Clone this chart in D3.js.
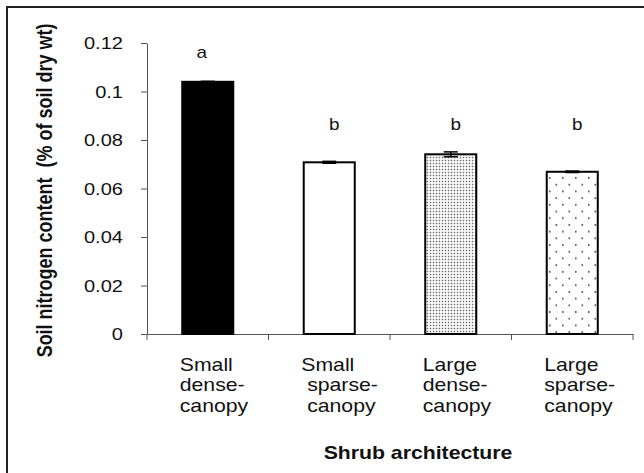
<!DOCTYPE html>
<html><head><meta charset="utf-8">
<script src="https://cdn.jsdelivr.net/npm/d3@7"></script>
<style>
html,body{margin:0;padding:0;background:#fff;}
svg{display:block;}
text{font-family:Arial,"Liberation Sans",sans-serif;fill:#111;}
</style></head>
<body>
<svg id="chart" width="644" height="473"></svg>
<script>
// ---- data ----
const categories = ["Small dense-canopy","Small sparse-canopy","Large dense-canopy","Large sparse-canopy"];
const categoryLines = [["Small","dense-","canopy"],["Small"," sparse-"," canopy"],["Large","dense-","canopy"],["Large","sparse-","canopy"]];
const values = [0.104, 0.0708, 0.0741, 0.0669];
const errors = [0.0002, 0.0004, 0.001, 0.0003];
const letters = ["a","b","b","b"];
const yTicks = [0, 0.02, 0.04, 0.06, 0.08, 0.1, 0.12];
const yTitle = "Soil nitrogen content  (% of soil dry wt)";
const xTitle = "Shrub architecture";

// ---- layout ----
const SX = 1.18; // horizontal stretch of glyphs
const svg = d3.select("#chart");
const mLeft = 147, mRight = 633, mTop = 43, mBottom = 334;

const x = d3.scaleBand().domain(categories).range([mLeft, mRight]).padding(0);
const y = d3.scaleLinear().domain([0, 0.12]).range([mBottom, mTop]);
const barW = x.bandwidth() * 0.42;

// outer frame
svg.append("rect").attr("x",7).attr("y",7).attr("width",700).attr("height",700)
  .attr("fill","none").attr("stroke","#222").attr("stroke-width",2);

// patterns
const defs = svg.append("defs");
const p1 = defs.append("pattern").attr("id","dense").attr("patternUnits","userSpaceOnUse")
  .attr("width",3).attr("height",3);
p1.append("rect").attr("width",3).attr("height",3).attr("fill","#fff");
p1.append("rect").attr("x",0.8).attr("y",0.8).attr("width",1.4).attr("height",1.4).attr("fill","#666");
const p2 = defs.append("pattern").attr("id","sparse").attr("patternUnits","userSpaceOnUse")
  .attr("width",13).attr("height",13.4);
p2.append("rect").attr("width",13).attr("height",13.4).attr("fill","#fff");
p2.append("rect").attr("x",3).attr("y",3).attr("width",1.6).attr("height",1.6).attr("fill","#444");
p2.append("rect").attr("x",9.5).attr("y",9.7).attr("width",1.6).attr("height",1.6).attr("fill","#444");
const fills = ["#000","#fff","url(#dense)","url(#sparse)"];

// y axis
const yAxis = svg.append("g").attr("transform",`translate(${mLeft},0)`)
  .call(d3.axisLeft(y).tickValues(yTicks).tickSize(6).tickSizeOuter(0)
    .tickFormat(d => d === 0 ? "0" : String(d)));
yAxis.select(".domain").attr("stroke","#555");
yAxis.selectAll(".tick line").attr("stroke","#555");
yAxis.selectAll(".tick text").attr("x",0).attr("dy","0.35em")
  .attr("transform","translate(-24,0) scale(" + SX + ",1)")
  .style("font-size","17px").attr("fill","#111");

// x axis
const xAxis = svg.append("g").attr("transform",`translate(0,${mBottom})`)
  .call(d3.axisBottom(x).tickSize(0).tickFormat(""));
xAxis.select(".domain").attr("stroke","#555");
const bounds = categories.map(c => x(c)).concat([mRight]);
xAxis.selectAll(".bt").data(bounds).join("line").attr("class","bt")
  .attr("x1",d=>d).attr("x2",d=>d).attr("y1",0).attr("y2",6).attr("stroke","#555");

// bars
const data = categories.map((c,i)=>({c, v:values[i], e:errors[i], l:letters[i], lines:categoryLines[i], f:fills[i]}));
svg.selectAll(".bar").data(data).join("rect").attr("class","bar")
  .attr("x", d => x(d.c) + (x.bandwidth()-barW)/2)
  .attr("y", d => y(d.v))
  .attr("width", barW)
  .attr("height", d => y(0) - y(d.v))
  .attr("fill", d => d.f)
  .attr("stroke","#000").attr("stroke-width",2);

// error bars
const eb = svg.selectAll(".eb").data(data).join("g").attr("class","eb")
  .attr("transform", d => `translate(${x(d.c)+x.bandwidth()/2},0)`);
eb.append("line").attr("y1",d=>y(d.v+d.e)).attr("y2",d=>y(d.v-d.e)).attr("stroke","#000").attr("stroke-width",1.5);
eb.append("line").attr("x1",-7).attr("x2",7).attr("y1",d=>y(d.v+d.e)).attr("y2",d=>y(d.v+d.e)).attr("stroke","#000").attr("stroke-width",1.5);
eb.append("line").attr("x1",-7).attr("x2",7).attr("y1",d=>y(d.v-d.e)).attr("y2",d=>y(d.v-d.e)).attr("stroke","#000").attr("stroke-width",1.5);

// significance letters
svg.selectAll(".sig").data(data).join("text").attr("class","sig")
  .attr("transform", (d,i) => `translate(${x(d.c)+x.bandwidth()/2 + (i===0?-6:5)},${i===0 ? 58 : 130}) scale(${SX},1)`)
  .attr("text-anchor","middle").style("font-size","16px").text(d=>d.l);

// category labels
const cl = svg.selectAll(".cl").data(data).join("g").attr("class","cl")
  .attr("transform", d => `translate(${x(d.c)+x.bandwidth()/2 - 28},371) scale(${SX},1)`);
cl.selectAll("text").data(d=>d.lines).join("text")
  .attr("x",0).attr("y",(d,i)=>i*20.5)
  .style("font-size","18px").style("white-space","pre").text(d=>d);

// axis titles
svg.append("text").attr("transform",`translate(418,459) scale(${SX},1)`)
  .attr("text-anchor","middle").style("font-size","18px").style("font-weight","bold").text(xTitle);
svg.append("text").attr("transform",`translate(52,${(23+358)/2}) scale(${SX},1) rotate(-90)`)
  .attr("text-anchor","middle").style("font-size","18px").style("font-weight","bold")
  .style("white-space","pre").text(yTitle);
</script>
</body></html>
